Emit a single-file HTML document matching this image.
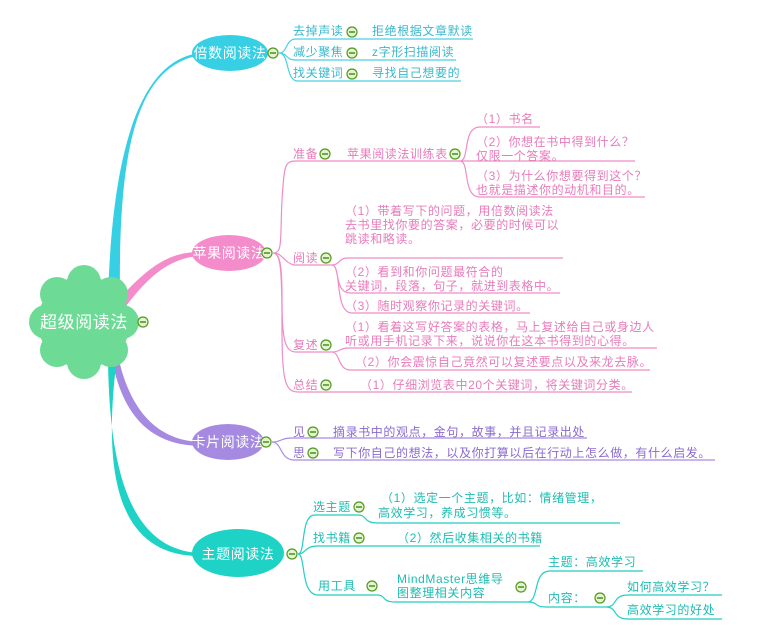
<!DOCTYPE html>
<html><head><meta charset="utf-8"><style>
body{margin:0;background:#fff}
svg{display:block}
text{font-family:"Liberation Sans","Noto Sans CJK SC",sans-serif;font-size:12px;letter-spacing:0.6px}
.b{fill:#3ab8cc}.p{fill:#e67cba}.v{fill:#8a6ad0}.t{fill:#1fbcb2}
.lb{stroke:#4ccfe2;fill:none;stroke-width:1.2}
.lp{stroke:#f08cc8;fill:none;stroke-width:1.2}
.lv{stroke:#a68ae2;fill:none;stroke-width:1.2}
.lt{stroke:#22cfc2;fill:none;stroke-width:1.2}
</style></head><body>
<svg width="760" height="640" viewBox="0 0 760 640" xmlns="http://www.w3.org/2000/svg">
<defs>
<g id="m"><circle r="5" fill="#e4f4d0" stroke="#4f9a1c" stroke-width="1.2"/><line x1="-3" y1="0" x2="3" y2="0" stroke="#3a7a10" stroke-width="1.3"/></g>
</defs>
<!-- main branches -->
<path d="M108 300 C112 150 140 60 200 53 L196 56 C136 70 118 150 120 300 Z" fill="#36cfe3"/>
<path d="M118 300 C150 265 170 252 200 252 L200 256 C170 258 150 275 126 306 Z" fill="#f48ccc"/>
<path d="M116 345 C125 400 150 440 200 442 L200 446 C145 445 120 410 110 350 Z" fill="#a68ae2"/>
<path d="M108 350 C108 470 130 550 200 553 L200 556 C120 556 100 480 118 350 Z" fill="#1ed2c6"/>
<!-- cloud -->
<g fill="#6ddb96">
<circle cx="84" cy="322" r="46"/>
<circle cx="84" cy="282" r="17"/><circle cx="84" cy="362" r="17"/>
<circle cx="46" cy="322" r="17"/><circle cx="122" cy="322" r="17"/>
<circle cx="57" cy="294" r="17"/><circle cx="111" cy="294" r="17"/>
<circle cx="57" cy="350" r="17"/><circle cx="111" cy="350" r="17"/>
</g>
<text x="84" y="328" text-anchor="middle" fill="#fff" style="font-size:17px">超级阅读法</text>
<use href="#m" x="143" y="322"/>

<!-- 倍数 -->
<ellipse cx="230" cy="53" rx="38" ry="18" fill="#36cfe3"/>
<text x="230" y="58" text-anchor="middle" fill="#fff" style="font-size:14px">倍数阅读法</text>
<use href="#m" x="273" y="53"/>
<path class="lb" d="M279 53 C288 53 285 39 296 39 L473 39 M279 53 C288 53 285 60 296 60 L456 60 M279 53 C290 53 285 81 298 81 L461 81"/>
<g class="b"><text x="293" y="35">去掉声读</text><text x="372" y="35">拒绝根据文章默读</text>
<text x="293" y="56">减少聚焦</text><text x="372" y="56">z字形扫描阅读</text>
<text x="293" y="77">找关键词</text><text x="372" y="77">寻找自己想要的</text></g>
<use href="#m" x="352" y="32"/><use href="#m" x="352" y="53"/><use href="#m" x="352" y="74"/>

<!-- 苹果 -->
<ellipse cx="229" cy="253" rx="37" ry="18" fill="#f48ccc"/>
<text x="229" y="258" text-anchor="middle" fill="#fff" style="font-size:14px">苹果阅读法</text>
<use href="#m" x="267" y="253"/>
<path class="lp" d="M273 253 C283 253 280 240 282 200 C284 165 285 161 296 161 L460 161
M273 253 C283 253 283 262 294 265 L332 265
M273 253 C281 253 282 270 282 300 C282 340 285 352 296 352 L332 352
M273 253 C281 253 282 270 282 330 C282 380 285 392 298 392 L332 392"/>
<g class="p"><text x="293" y="158">准备</text><text x="347" y="158">苹果阅读法训练表</text></g>
<use href="#m" x="325" y="154"/><use href="#m" x="455" y="154"/>
<path class="lp" d="M460 161 C470 161 462 127 480 127 L540 127 M460 161 L635 161 M460 161 C470 161 462 197 480 197 L645 197"/>
<g class="p"><text x="476" y="123">（1）书名</text>
<text x="476" y="146">（2）你想在书中得到什么？</text><text x="476" y="160">仅限一个答案。</text>
<text x="476" y="180">（3）为什么你想要得到这个？</text><text x="476" y="194">也就是描述你的动机和目的。</text></g>
<g class="p"><text x="293" y="262">阅读</text><text x="293" y="349">复述</text><text x="293" y="389">总结</text></g>
<use href="#m" x="326" y="258"/><use href="#m" x="326" y="345"/><use href="#m" x="326" y="385"/>
<path class="lp" d="M332 265 C340 265 338 258 348 258 L563 258 M332 265 C340 265 334 293 350 293 L560 293 M332 265 C342 265 334 313 352 313 L530 313
M332 352 C340 352 340 348 348 348 L657 348 M332 352 C340 352 338 370 350 370 L650 370 M332 392 L632 392"/>
<g class="p"><text x="345" y="215">（1）带着写下的问题，用倍数阅读法</text><text x="345" y="229">去书里找你要的答案，必要的时候可以</text><text x="345" y="243">跳读和略读。</text>
<text x="345" y="276">（2）看到和你问题最符合的</text><text x="345" y="290">关键词，段落，句子，就进到表格中。</text>
<text x="345" y="310">（3）随时观察你记录的关键词。</text>
<text x="345" y="331">（1）看着这写好答案的表格，马上复述给自己或身边人</text><text x="345" y="345">听或用手机记录下来，说说你在这本书得到的心得。</text>
<text x="355" y="366">（2）你会震惊自己竟然可以复述要点以及来龙去脉。</text>
<text x="360" y="389">（1）仔细浏览表中20个关键词，将关键词分类。</text></g>

<!-- 卡片 -->
<ellipse cx="228" cy="442" rx="36" ry="18" fill="#a68ae2"/>
<text x="228" y="447" text-anchor="middle" fill="#fff" style="font-size:14px">卡片阅读法</text>
<use href="#m" x="266" y="442"/>
<path class="lv" d="M272 442 C282 442 280 438 292 438 L587 438 M272 442 C282 442 280 460 294 460 L715 460"/>
<g class="v"><text x="293" y="436">见</text><text x="333" y="436">摘录书中的观点，金句，故事，并且记录出处</text>
<text x="293" y="457">思</text><text x="333" y="457">写下你自己的想法，以及你打算以后在行动上怎么做，有什么启发。</text></g>
<use href="#m" x="313" y="432"/><use href="#m" x="313" y="453"/>

<!-- 主题 -->
<ellipse cx="238" cy="553" rx="46" ry="24" fill="#1ed2c6"/>
<text x="238" y="559" text-anchor="middle" fill="#fff" style="font-size:14px">主题阅读法</text>
<use href="#m" x="292" y="554"/>
<path class="lt" d="M298 554 C306 554 300 515 315 515 L358 515 C368 515 362 523 378 523 L620 523
M298 554 C306 554 304 546 318 546 L540 546
M298 554 C306 554 300 595 318 595 L377 595 C387 595 380 602 396 602 L527 602
M527 602 C540 602 532 571 550 571 L643 571 M527 602 C540 602 532 607 548 607 L606 607
M606 607 C618 607 612 595 628 595 L722 595 M606 607 C618 607 612 619 628 619 L722 619"/>
<g class="t"><text x="313" y="511">选主题</text><text x="313" y="542">找书籍</text><text x="318" y="590">用工具</text>
<text x="381" y="502">（1）选定一个主题，比如：情绪管理，</text><text x="378" y="517">高效学习，养成习惯等。</text>
<text x="397" y="542">（2）然后收集相关的书籍</text>
<text x="397" y="583">MindMaster思维导</text><text x="397" y="597">图整理相关内容</text>
<text x="548" y="566">主题：高效学习</text><text x="548" y="602">内容：</text>
<text x="627" y="591">如何高效学习？</text><text x="627" y="614">高效学习的好处</text></g>
<use href="#m" x="359" y="507"/><use href="#m" x="359" y="538"/><use href="#m" x="372" y="586"/>
<use href="#m" x="521" y="587"/><use href="#m" x="600" y="598"/>
</svg>
</body></html>
